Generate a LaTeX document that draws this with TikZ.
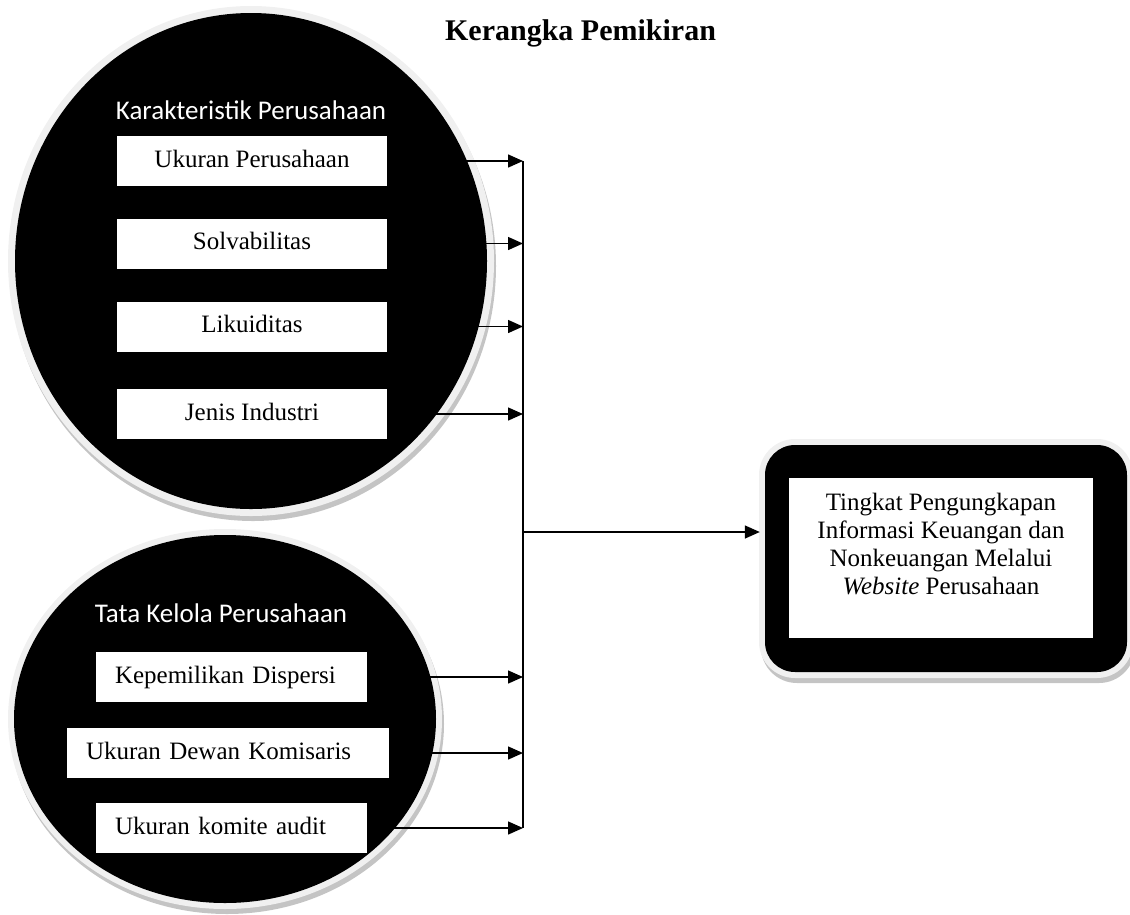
\documentclass[tikz,border=0pt]{standalone}
\usepackage{fontspec}
\setmainfont{Liberation Serif}
\newfontfamily\calibrifont{Carlito}
\usetikzlibrary{shapes.geometric,arrows.meta,calc}
\definecolor{rimgray}{HTML}{F0F0F0}
\definecolor{shadowgray}{HTML}{C4C4C4}
\begin{document}
\begin{tikzpicture}[x=1pt,y=-1pt,
  blk/.style={fill=black,draw=none,inner sep=0pt},
  rimst/.style={fill=rimgray,draw=none,inner sep=0pt},
  shd/.style={fill=shadowgray,draw=none,inner sep=0pt},
  wbox/.style={rectangle,fill=white,draw=none,inner sep=0pt,minimum height=50pt,
    text height=17.5pt,text depth=5pt,font=\fontsize{25}{28}\selectfont},
  lbox/.style={wbox,align=left,inner xsep=19pt},
  head/.style={text=white,font=\calibrifont\fontsize{27}{32}\selectfont,anchor=base,inner sep=0pt},
  arr/.style={line width=1.5pt,-{Triangle[length=15pt,width=13pt]}},
  bus/.style={line width=1.5pt}]
\useasboundingbox (0,0) rectangle (1130,914);

% title
\node[font=\bfseries\fontsize{30}{36}\selectfont,anchor=base,inner sep=0pt] (title) at (580.5,40) {Kerangka Pemikiran};

% upper group
\node[ellipse,shd,minimum width=486pt,minimum height=510pt] (kpshadow) at (253,266) {};
\node[ellipse,rimst,minimum width=486pt,minimum height=510pt] (kprim) at (251,261) {};
\node[ellipse,blk,minimum width=472pt,minimum height=496pt] (kp) at (251,261) {};
\node[head] (kphead) at (251,119) {Karakteristik Perusahaan};
\node[wbox,minimum width=270pt] (u1) at (252,161) {Ukuran Perusahaan};
\node[wbox,minimum width=270pt] (u2) at (252,243.5) {Solvabilitas};
\node[wbox,minimum width=270pt] (u3) at (252,326.5) {Likuiditas};
\node[wbox,minimum width=270pt] (u4) at (252,414) {Jenis Industri};

% lower group
\node[ellipse,shd,minimum width=434pt,minimum height=380pt] (tkshadow) at (227,724) {};
\node[ellipse,rimst,minimum width=434pt,minimum height=380pt] (tkrim) at (225,719) {};
\node[ellipse,blk,minimum width=422pt,minimum height=368pt] (tk) at (225,719) {};
\node[head] (tkhead) at (221,622) {Tata Kelola Perusahaan};
\node[lbox,text width=233pt] (t1) at (231.5,677) {Kepemilikan Dispersi};
\node[lbox,text width=284pt] (t2) at (228,753) {Ukuran Dewan Komisaris};
\node[lbox,text width=233pt] (t3) at (231.5,828) {Ukuran komite audit};

% result box
\node[rectangle,rounded corners=36pt,shd,minimum width=374pt,minimum height=239pt] (resshadow) at (948,563.5) {};
\node[rectangle,rounded corners=36pt,rimst,minimum width=374pt,minimum height=239pt] (resrim) at (946,558.5) {};
\node[rectangle,rounded corners=30pt,blk,minimum width=362pt,minimum height=227pt] (res) at (946,558.5) {};
\node[rectangle,fill=white,draw=none,inner sep=0pt,minimum width=304pt,minimum height=160pt] (resin) at (941,558) {};
\node[font=\fontsize{25}{28.3}\selectfont,align=center,inner sep=0pt] (restext) at (941,544)
  {Tingkat Pengungkapan\\Informasi Keuangan dan\\Nonkeuangan Melalui\\\textit{Website} Perusahaan};

% connectors
\coordinate (busx) at (523,0);
\foreach \n in {u1,u2,u3,u4,t1,t2,t3}
  \draw[arr] (\n.east) -- (\n.east -| busx);
\draw[bus] (u1.east -| busx) -- (t3.east -| busx);
\coordinate (bm) at (523,532);
\draw[arr,shorten >=5pt] (bm) -- (bm -| res.west);
\end{tikzpicture}
\end{document}
